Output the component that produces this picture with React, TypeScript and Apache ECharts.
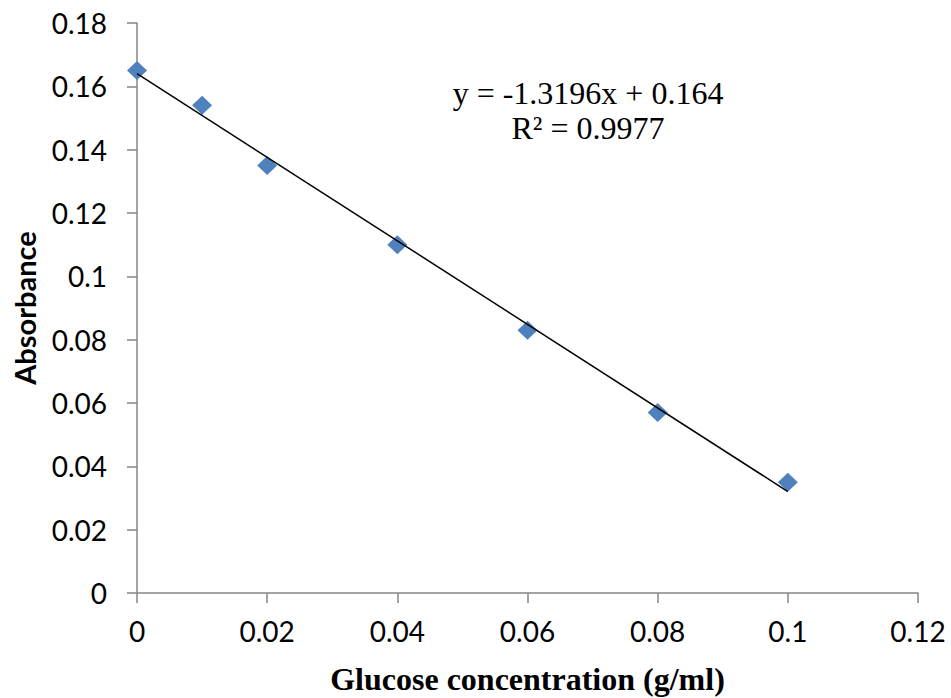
import React, { useEffect, useRef } from "react";
import * as echarts from "echarts";

const concentrations = [0, 0.01, 0.02, 0.04, 0.06, 0.08, 0.1];
const absorbances = [0.165, 0.154, 0.135, 0.11, 0.083, 0.057, 0.035];
const slope = -1.3196;
const intercept = 0.164;
const trendX = [0, 0.1];
const equationLines = ["y = -1.3196x + 0.164", "R² = 0.9977"];

export default function App() {
  const ref = useRef<HTMLDivElement>(null);
  useEffect(() => {
    if (!ref.current) return;
    const chart = echarts.init(ref.current, undefined, { renderer: "svg" });
    const axisColor = "#868686";
    chart.setOption({
      animation: false,
      backgroundColor: "#ffffff",
      grid: { left: 137, right: 33, top: 23, bottom: 105, containLabel: false, outerBoundsMode: "none" },
      xAxis: {
        type: "value",
        min: 0,
        max: 0.12,
        interval: 0.02,
        name: "Glucose concentration (g/ml)",
        nameLocation: "middle",
        nameGap: 70,
        nameTextStyle: { fontFamily: "Liberation Serif", fontWeight: "bold", fontSize: 32, color: "#000" },
        axisLine: { show: true, onZero: false, lineStyle: { color: axisColor, width: 1.5 } },
        axisTick: { show: true, inside: false, length: 10, lineStyle: { color: axisColor, width: 1.5 } },
        axisLabel: { margin: 24, fontFamily: "Lato", fontSize: 28, color: "#000" },
        splitLine: { show: false },
      },
      yAxis: {
        type: "value",
        min: 0,
        max: 0.18,
        interval: 0.02,
        name: "Absorbance",
        nameLocation: "middle",
        nameGap: 98,
        nameTextStyle: { fontFamily: "Lato", fontWeight: "bold", fontSize: 29, color: "#000" },
        axisLine: { show: true, onZero: false, lineStyle: { color: axisColor, width: 1.5 } },
        axisTick: { show: true, inside: false, length: 10, lineStyle: { color: axisColor, width: 1.5 } },
        axisLabel: { margin: 30, fontFamily: "Lato", fontSize: 28, color: "#000" },
        splitLine: { show: false },
      },
      series: [
        {
          type: "line",
          data: trendX.map((x) => [x, slope * x + intercept]),
          symbol: "none",
          lineStyle: { color: "#000", width: 1.5 },
          z: 3,
          silent: true,
        },
        {
          type: "scatter",
          data: concentrations.map((x, i) => [x, absorbances[i]]),
          symbol: "diamond",
          symbolSize: [20, 19],
          itemStyle: { color: "#4F81BD", opacity: 1 },
          z: 2,
        },
      ],
      graphic: [
        {
          type: "text",
          x: 588,
          y: 93,
          style: {
            text: equationLines[0],
            font: "32px 'Liberation Serif'",
            fill: "#000",
            align: "center",
            verticalAlign: "middle",
          },
        },
        {
          type: "text",
          x: 588,
          y: 128,
          style: {
            text: equationLines[1],
            font: "32px 'Liberation Serif'",
            fill: "#000",
            align: "center",
            verticalAlign: "middle",
          },
        },
      ],
    });
    return () => chart.dispose();
  }, []);
  return <div ref={ref} style={{ width: 951, height: 698, position: "absolute", left: 0, top: 0 }} />;
}
